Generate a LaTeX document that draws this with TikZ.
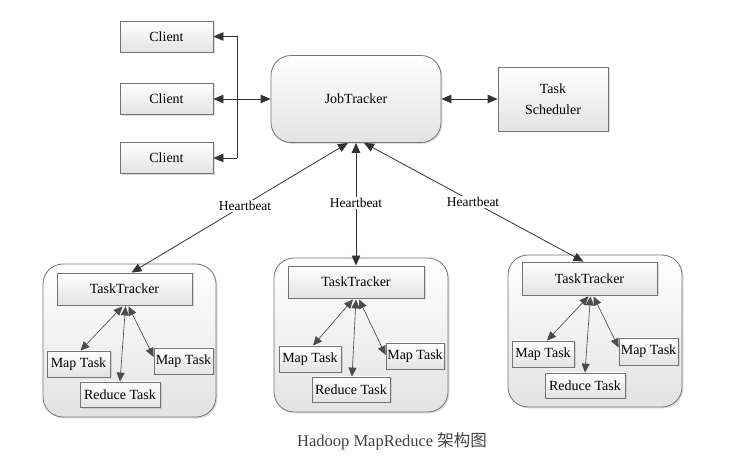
\documentclass[tikz,border=0pt]{standalone}
\usepackage{fontspec}
\setmainfont{Liberation Serif}
\newfontfamily\cjk{Noto Sans CJK SC}
\usetikzlibrary{arrows.meta,shadows,calc}
\begin{document}
\begin{tikzpicture}[x=1pt,y=-1pt,
  base/.style={draw=black!55, line width=0.8pt, top color=white, bottom color=black!11,
    inner sep=0pt, align=center, font=\fontsize{14}{21}\selectfont,
    drop shadow={opacity=0.25, shadow xshift=1.5pt, shadow yshift=-1.5pt}},
  rectbox/.style={base, rectangle},
  roundbox/.style={base, rounded corners=20pt},
  dims/.style 2 args={minimum width=#1pt, minimum height=#2pt},
  tip/.tip={Triangle[length=10pt,width=8.5pt]},
  smalltip/.tip={Triangle[length=9pt,width=8pt]},
  conn/.style={draw=black!80, line width=0.8pt},
  hb/.style={conn, tip-tip},
  sarr/.style={conn, -tip},
  darr/.style={conn, tip-tip},
  inner/.style={draw=black!70, line width=0.65pt, smalltip-smalltip},
  hblabel/.style={fill=white, inner sep=1.5pt, font=\fontsize{13.5}{15}\selectfont}
]
\useasboundingbox (0,0) rectangle (734,470);

% top row
\node[rectbox, dims={93}{31}] (C1) at (166.5,36.5) {Client};
\node[rectbox, dims={93}{31}] (C2) at (166.5,99) {Client};
\node[rectbox, dims={93}{31}] (C3) at (166.5,158) {Client};
\node[roundbox, dims={170}{87}] (JT) at (356,99) {JobTracker};
\node[rectbox, dims={110}{64}] (TS) at (553,99) {Task\\Scheduler};

% worker groups
\node[roundbox, dims={173}{153}] (B1) at (129.5,340.5) {};
\node[roundbox, dims={174}{154}] (B2) at (361,335) {};
\node[roundbox, dims={174}{152}] (B3) at (595,331) {};

\node[rectbox, dims={135}{32}] (TT1) at (124.5,289) {TaskTracker};
\node[rectbox, dims={63}{26}] (ML1) at (78.5,364) {Map Task};
\node[rectbox, dims={59}{26}] (MR1) at (183.5,361) {Map Task};
\node[rectbox, dims={80}{25}] (R1) at (120,394.5) {Reduce Task};

\node[rectbox, dims={136}{32}] (TT2) at (356,282) {TaskTracker};
\node[rectbox, dims={62}{26}] (ML2) at (310,359) {Map Task};
\node[rectbox, dims={58}{26}] (MR2) at (415,356) {Map Task};
\node[rectbox, dims={78}{25}] (R2) at (351,389.5) {Reduce Task};

\node[rectbox, dims={135}{33}] (TT3) at (589.5,278.5) {TaskTracker};
\node[rectbox, dims={62}{26}] (ML3) at (543,354) {Map Task};
\node[rectbox, dims={59}{27}] (MR3) at (648.5,351.5) {Map Task};
\node[rectbox, dims={80}{25}] (R3) at (585,385.5) {Reduce Task};

% client bus
\coordinate (bus) at (237,99);
\draw[conn] (C1.east -| bus) -- (C3.east -| bus);
\draw[sarr] (C1.east -| bus) -- (C1.east);
\draw[sarr] (C3.east -| bus) -- (C3.east);
\draw[darr] (C2.east) -- (JT.west);
\draw[darr] (JT.east) -- (TS.west);

% heartbeats
\draw[hb] ($(JT.south)+(-8,0)$) -- ($(TT1.north)+(7,0)$);
\draw[hb] (JT.south) -- (TT2.north);
\draw[hb] ($(JT.south)+(8,0)$) -- ($(TT3.north)+(-6,0)$);
\node[hblabel] (H1) at (245,206) {Heartbeat};
\node[hblabel] (H2) at (356,203) {Heartbeat};
\node[hblabel] (H3) at (473,202) {Heartbeat};

% inner arrows
\draw[inner] ($(TT1.south)+(-2,1)$) -- ($(ML1.north)+(2,0)$);
\draw[inner] ($(TT1.south)+(1,1)$) -- ($(R1.north)+(0,0)$);
\draw[inner] ($(TT1.south)+(4,1)$) -- ($(MR1.west)+(0,-4)$);

\draw[inner] ($(TT2.south)+(-3,1)$) -- ($(ML2.north)+(3,0)$);
\draw[inner] ($(TT2.south)+(0,1)$) -- ($(R2.north)+(1,0)$);
\draw[inner] ($(TT2.south)+(3,1)$) -- ($(MR2.west)+(0,-1)$);

\draw[inner] ($(TT3.south)+(-1,1)$) -- ($(ML3.north)+(4,0)$);
\draw[inner] ($(TT3.south)+(1,1)$) -- ($(R3.north)+(0,0)$);
\draw[inner] ($(TT3.south)+(4,1)$) -- ($(MR3.west)+(0,-4)$);

% caption
\node (cap) at (392,441) {\fontsize{16.5}{20}\selectfont\color{black!75}Hadoop MapReduce {\cjk 架构图}};
\end{tikzpicture}
\end{document}
